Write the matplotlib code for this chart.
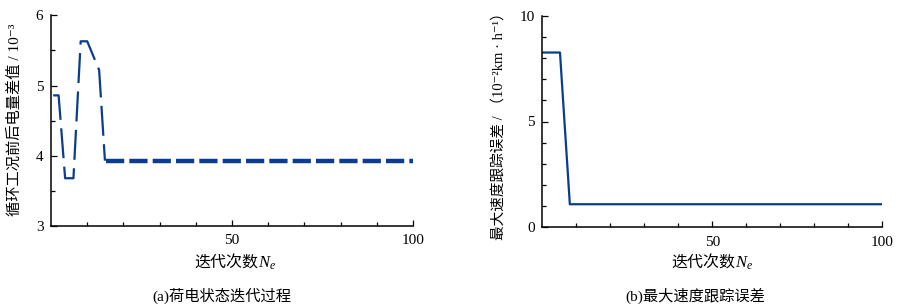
import matplotlib
matplotlib.use("Agg")
import matplotlib.pyplot as plt
from matplotlib.ticker import FixedLocator, MultipleLocator

plt.rcParams['font.family'] = ['Liberation Serif', 'Noto Sans CJK SC', 'DejaVu Sans']
plt.rcParams['mathtext.fontset'] = 'custom'
plt.rcParams['mathtext.rm'] = 'Liberation Serif'
plt.rcParams['mathtext.it'] = 'Liberation Serif:italic'

# ---- data (a): charge difference before/after cycle vs iteration ----
iter_a_transient = [0.6, 2.1, 3.9, 6.2, 8.2, 10.0, 13.3, 14.9]
soc_diff_transient = [4.86, 4.86, 3.68, 3.68, 5.63, 5.63, 5.22, 3.93]
iter_a_steady = [15.2, 100.0]
soc_diff_steady = [3.93, 3.93]

# ---- data (b): max speed tracking error vs iteration ----
iter_b = [0.3, 5.2, 8.1, 99.8]
speed_err = [8.26, 8.26, 1.09, 1.09]

xticks_major = [50, 100]
xtick_labels = ['50', '100']
yticks_a = [3, 4, 5, 6]
yticks_b = [0, 5, 10]

line_color = '#0b3c8f'

fig = plt.figure(figsize=(9.02, 3.08), dpi=100)
axA = fig.add_axes([51/902, 1-226/308, 362/902, (226-15.3)/308])
axB = fig.add_axes([542.3/902, 1-227.3/308, 340/902, (227.3-15.7)/308])

for ax in (axA, axB):
    for s in ('top', 'right'):
        ax.spines[s].set_visible(False)
    for s in ('left', 'bottom'):
        ax.spines[s].set_linewidth(1.1)
    ax.tick_params(which='both', direction='in', width=0.9, labelsize=11)
    ax.tick_params(which='major', length=4.5)
    ax.tick_params(which='minor', length=3)
    ax.tick_params(axis='y', pad=5.5)
    ax.tick_params(axis='x', pad=6.0)
    ax.set_xlim(0, 100)
    ax.xaxis.set_major_locator(FixedLocator(xticks_major))
    ax.set_xticklabels(xtick_labels)
    ax.xaxis.set_minor_locator(FixedLocator([10, 20, 30, 40, 60, 70, 80, 90]))

# (a)
l1, = axA.plot(iter_a_transient, soc_diff_transient, color=line_color, lw=1.6)
l1.set_dashes([13.5, 3.8])
l2, = axA.plot(iter_a_steady, soc_diff_steady, color=line_color, lw=3.2,
               solid_capstyle='butt', dash_capstyle='butt')
l2.set_dashes([4.1, 1.15])
axA.set_ylim(3, 6)
axA.yaxis.set_major_locator(FixedLocator(yticks_a))
axA.yaxis.set_minor_locator(FixedLocator([3.5, 4.5, 5.5]))

# (b)
axB.plot(iter_b, speed_err, color=line_color, lw=1.6)
axB.set_ylim(0, 10)
axB.yaxis.set_major_locator(FixedLocator(yticks_b))
axB.yaxis.set_minor_locator(MultipleLocator(1))

# y labels
fig.text(15/902, 1-120/308, '循环工况前后电量差值 / 10⁻³', rotation=90,
         ha='center', va='center', fontsize=11)
fig.text(500/902, 1-123/308, '最大速度跟踪误差 / （10⁻²km · h⁻¹）', rotation=90,
         ha='center', va='center', fontsize=10.5)

# x labels
for xpos in (258/902, 735/902):
    fig.text(xpos, 1-268/308, '迭代次数', ha='right', va='baseline', fontsize=11.5)
    fig.text(xpos, 1-268/308, '$N_e$', ha='left', va='baseline', fontsize=12)

# captions
fig.text(222/902, 1-296/308, '(a)荷电状态迭代过程', ha='center', va='center', fontsize=11)
fig.text(695/902, 1-296/308, '(b)最大速度跟踪误差', ha='center', va='center', fontsize=11)

fig.savefig('out.png', dpi=100)
